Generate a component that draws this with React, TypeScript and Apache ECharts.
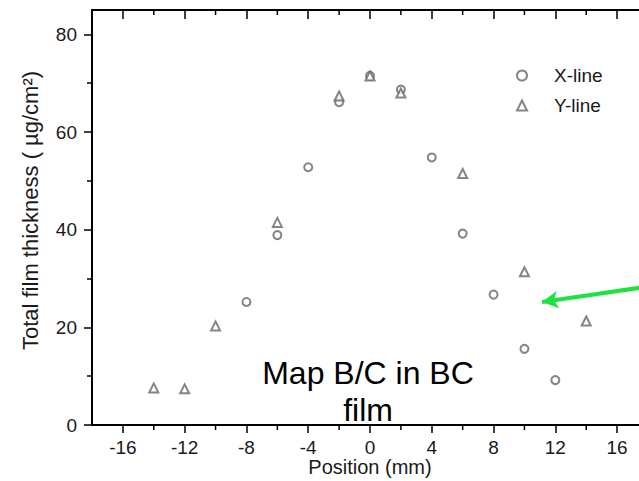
import React, { useEffect, useRef } from "react";
import * as echarts from "echarts";

const xLinePos = [-8, -6, -4, -2, 0, 2, 4, 6, 8, 10, 12];
const xLineVal = [25.2, 38.9, 52.8, 66.1, 71.5, 68.7, 54.8, 39.2, 26.7, 15.6, 9.2];
const yLinePos = [-14, -12, -10, -6, -2, 0, 2, 6, 10, 14];
const yLineVal = [7.6, 7.4, 20.3, 41.5, 67.4, 71.5, 68.0, 51.5, 31.4, 21.3];

const xMajorTicks = [-16, -12, -8, -4, 0, 4, 8, 12, 16];
const xMinorTicks = [-14, -10, -6, -2, 2, 6, 10, 14];
const yMajorTicks = [0, 20, 40, 60, 80];
const yMinorTicks = [10, 30, 50, 70];

const arrowStart = [18, 28.35];
const arrowEnd = [11.14, 25.2];

const annotation = "Map B/C in BC\nfilm";

const FONT = "Arial, 'Liberation Sans', sans-serif";
const TXT = "#1a1a1a";
const X_MIN = -18;
const X_MAX = 18;
const Y_MIN = 0;
const Y_MAX = 85;

export default function App() {
  const ref = useRef<HTMLDivElement>(null);
  useEffect(() => {
    if (!ref.current) return;
    const chart = echarts.init(ref.current, undefined, { renderer: "svg" });
    chart.setOption({
      animation: false,
      backgroundColor: "#ffffff",
      grid: { left: 92, top: 10, width: 556, height: 415, outerBoundsMode: "none" },
      legend: {
        orient: "vertical",
        left: 511,
        top: 61,
        itemWidth: 10,
        itemHeight: 10,
        itemGap: 11,
        textStyle: { fontSize: 19, fontFamily: FONT, color: TXT, padding: [0, 0, 0, 22] },
        data: ["X-line", "Y-line"],
      },
      xAxis: [
        {
          type: "value",
          min: X_MIN,
          max: X_MAX,
          position: "bottom",
          splitLine: { show: false },
          name: "Position (mm)",
          nameLocation: "middle",
          nameGap: 32,
          nameMoveOverlap: false,
          nameTextStyle: { fontSize: 20, fontFamily: FONT, color: TXT },
          axisLine: { show: true, onZero: false, lineStyle: { color: "#000", width: 2 } },
          axisTick: { show: true, customValues: xMajorTicks, length: 8, lineStyle: { color: "#000", width: 1.5 } },
          axisLabel: { customValues: xMajorTicks, fontSize: 19, fontFamily: FONT, color: TXT, margin: 13 },
        },
        {
          type: "value",
          min: X_MIN,
          max: X_MAX,
          position: "top",
          splitLine: { show: false },
          axisLine: { show: true, onZero: false, lineStyle: { color: "#000", width: 2 } },
          axisTick: { show: true, inside: true, customValues: xMajorTicks, length: 9, lineStyle: { color: "#000", width: 1.5 } },
          axisLabel: { show: false },
        },
      ],
      yAxis: [
        {
          type: "value",
          min: Y_MIN,
          max: Y_MAX,
          position: "left",
          splitLine: { show: false },
          name: "Total film thickness ( µg/cm²)",
          nameLocation: "middle",
          nameGap: 51,
          nameTextStyle: { fontSize: 22, fontFamily: FONT, color: TXT, padding: [0, 0, 0, 14] },
          axisLine: { show: true, onZero: false, lineStyle: { color: "#000", width: 2 } },
          axisTick: { show: true, customValues: yMajorTicks, length: 8, lineStyle: { color: "#000", width: 1.5 } },
          axisLabel: { customValues: yMajorTicks, fontSize: 19, fontFamily: FONT, color: TXT, margin: 15 },
        },
        {
          type: "value",
          min: Y_MIN,
          max: Y_MAX,
          position: "left",
          splitLine: { show: false },
          axisLine: { show: false, onZero: false },
          axisTick: { show: true, customValues: yMinorTicks, length: 5, lineStyle: { color: "#000", width: 1.5 } },
          axisLabel: { show: false },
        },
      ],
      series: [
        {
          name: "X-line",
          type: "scatter",
          symbol: "emptyCircle",
          symbolSize: 8,
          itemStyle: { color: "#666", borderColor: "#666", borderWidth: 1.2 },
          data: xLinePos.map((x, i) => [x, xLineVal[i]]),
          markLine: {
            silent: true,
            symbol: ["none", "arrow"],
            symbolSize: [13, 16],
            label: { show: false },
            lineStyle: { color: "#1ee33e", width: 4, type: "solid" },
            data: [[{ coord: arrowStart }, { coord: arrowEnd }]],
          },
        },
        {
          name: "Y-line",
          type: "scatter",
          symbol: "emptyTriangle",
          symbolSize: 9,
          itemStyle: { color: "#666", borderColor: "#666", borderWidth: 1.2 },
          data: yLinePos.map((x, i) => [x, yLineVal[i]]),
        },
        {
          name: "minorTicks",
          type: "custom",
          silent: true,
          data: xMinorTicks.map((v) => [v, Y_MIN]),
          renderItem: (params: any, api: any) => {
            const x = api.value(0);
            const t = api.coord([x, Y_MAX]);
            const b = api.coord([x, Y_MIN]);
            return {
              type: "group",
              children: [
                { type: "line", shape: { x1: t[0], y1: t[1], x2: t[0], y2: t[1] + 5 }, style: { stroke: "#000", lineWidth: 1.5 } },
                { type: "line", shape: { x1: b[0], y1: b[1], x2: b[0], y2: b[1] + 5 }, style: { stroke: "#000", lineWidth: 1.5 } },
              ],
            };
          },
        },
      ],
      graphic: [
        {
          type: "text",
          x: 368,
          y: 354,
          style: {
            text: annotation,
            fontSize: 32,
            lineHeight: 37,
            fontFamily: FONT,
            fill: "#000",
            align: "center",
            verticalAlign: "top",
          },
        },
      ],
    });
    return () => chart.dispose();
  }, []);
  return (
    <div
      ref={ref}
      style={{ position: "absolute", left: 0, top: 0, width: 639, height: 481 }}
    />
  );
}
